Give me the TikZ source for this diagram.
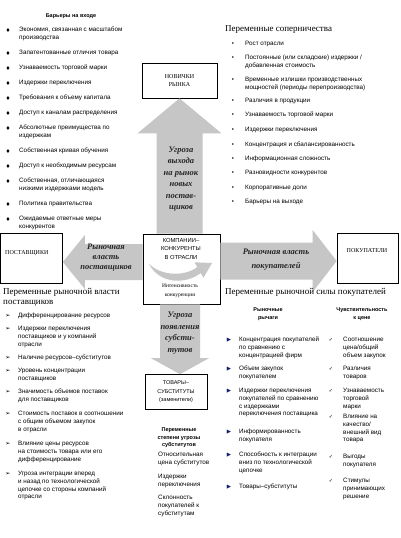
\documentclass[tikz,border=0pt]{standalone}
\usepackage{fontspec}
\setmainfont{Liberation Serif}
\setsansfont{Liberation Sans}
\newfontfamily\djv{DejaVu Sans}
\usetikzlibrary{calc,arrows.meta}
\definecolor{arrgray}{RGB}{198,198,198}
\definecolor{navyb}{RGB}{20,30,110}
\tikzset{
  lst/.style={font=\sffamily\fontsize{6.3}{7.8}\selectfont, align=left, anchor=north west, inner sep=0pt},
  dia/.style={node contents={\djv\fontsize{5.5}{5.5}\selectfont ♦}, inner sep=0pt},
  dot/.style={node contents={\sffamily\fontsize{6}{6}\selectfont •}, inner sep=0pt},
  harr/.style={node contents={\djv\fontsize{6}{6}\selectfont ➢}, inner sep=0pt},
  tri/.style={node contents={\djv\fontsize{5.5}{5.5}\selectfont ▶}, inner sep=0pt, text=navyb},
  chk/.style={node contents={\djv\fontsize{5}{5}\selectfont ✓}, inner sep=0pt},
  hdr/.style={font=\rmfamily\fontsize{9}{10}\selectfont, align=left, anchor=north west, inner sep=0pt},
  sub/.style={font=\sffamily\bfseries\fontsize{5.5}{7.5}\selectfont, align=center, inner sep=0pt},
  box/.style={draw=black, line width=0.7pt, fill=white, inner sep=0pt},
  arr/.style={fill=arrgray, draw=none},
  arrtxt/.style={font=\rmfamily\bfseries\itshape\fontsize{8.5}{10}\selectfont, align=center, inner sep=0pt, text=black!85},
  boxtxt/.style={font=\rmfamily\fontsize{6}{8.5}\selectfont, align=center, inner sep=0pt},
  boxsans/.style={font=\sffamily\fontsize{5.8}{8.5}\selectfont, align=center, inner sep=0pt}
}
\newcommand\LI[6]{%
  \node[name=#1b, at={(#3,#5)}, #2];
  \node[lst] (#1) at (#4,#5-3) {#6};}
\begin{document}
\begin{tikzpicture}[x=1pt,y=-1pt]
\useasboundingbox (0,0) rectangle (401,538);
\fill[white] (0,0) rectangle (401,538);

% boxes
\node[box, minimum width=75pt, minimum height=35pt] (nov) at (179.5,80.5) {};
\node[box, minimum width=62pt, minimum height=50pt] (sup) at (31.5,258) {};
\node[box, minimum width=61pt, minimum height=50pt] (cus) at (367.5,258) {};
\node[box, minimum width=77pt, minimum height=70pt] (comp) at (181.5,269) {};
\node[box, minimum width=62pt, minimum height=35pt] (sbs) at (176,392) {};

% block arrows
\fill[arr] (nov.south) -- ++(42,35) -- ++(-19,0) -- ($(nov.south|-comp.north)+(23,0)$)
  -- ++(-46,0) -- ($(nov.south)+(-23,35)$) -- ++(-19,0) -- cycle;
\coordinate (dt) at ($(sbs.north)+(4,0)$);
\fill[arr] (dt) -- ++(29,-16) -- ++(-9,0) -- ($(dt|-comp.south)+(20,0)$)
  -- ++(-40,0) -- ($(dt)+(-20,-16)$) -- ++(-9,0) -- cycle;
\coordinate (lt) at ($(sup.east)+(0,4)$);
\fill[arr] (lt) -- ++(22,-27) -- ++(0,9) -- ($(lt-|comp.west)+(0,-18)$) -- ++(0,36)
  -- ($(lt)+(22,18)$) -- ++(0,9) -- cycle;
\coordinate (rt) at ($(cus.west)+(0,3)$);
\fill[arr] (rt) -- ++(-24,-31) -- ++(0,12.5) -- ($(rt-|comp.east)+(0,-18.5)$) -- ++(0,37)
  -- ($(rt)+(-24,18.5)$) -- ++(0,12.5) -- cycle;

% arrow texts
\node[arrtxt, font=\rmfamily\bfseries\itshape\fontsize{8.5}{11.4}\selectfont] (tup) at (181,179)
  {Угроза\\выхода\\на рынок\\новых\\постав-\\щиков};
\node[arrtxt] (tlf) at (106,258) {Рыночная\\власть\\поставщиков};
\node[arrtxt, font=\rmfamily\bfseries\itshape\fontsize{8.5}{14}\selectfont] (trt) at (276,260) {Рыночная власть\\покупателей};
\node[arrtxt, font=\rmfamily\bfseries\itshape\fontsize{8.5}{11.5}\selectfont] (tdn) at (180,333) {Угроза\\появления\\субсти-\\тутов};

% box texts
\node[boxtxt] (novt) at (nov.center) {НОВИЧКИ\\РЫНКА};
\node[boxtxt, anchor=west] (supt) at (5,253) {ПОСТАВЩИКИ};
\node[boxtxt] (cust) at (367,251) {ПОКУПАТЕЛИ};
\node[boxsans] (compt) at (181,249) {КОМПАНИИ–\\КОНКУРЕНТЫ\\В ОТРАСЛИ};
\fill[arrgray] (149,264) .. controls (160,285) and (187,284) .. (200.7,273) -- (203.5,277.7)
  -- (212,263) -- (194.5,262.3) -- (197.3,267) .. controls (186,276) and (163,277) .. (149,264) -- cycle;
\node[boxtxt, font=\rmfamily\fontsize{5.5}{8.5}\selectfont] (compi) at (180,291) {Интенсивность\\конкуренции};
\node[boxsans, font=\sffamily\fontsize{5.5}{8.5}\selectfont] (sbst) at (sbs.center) {ТОВАРЫ–\\СУБСТИТУТЫ\\(заменители)};

% left top list
\node[sub] (lth) at (71,16) {Барьеры на входе};
\LI{a1}{dia}{8}{19}{30}{Экономия, связанная с масштабом\\производства}
\LI{a2}{dia}{8}{19}{53}{Запатентованные отличия товара}
\LI{a3}{dia}{8}{19}{68}{Узнаваемость торговой марки}
\LI{a4}{dia}{8}{19}{83}{Издержки переключения}
\LI{a5}{dia}{8}{19}{98}{Требования к объему капитала}
\LI{a6}{dia}{8}{19}{113}{Доступ к каналам распределения}
\LI{a7}{dia}{8}{19}{128}{Абсолютные преимущества по\\издержкам}
\LI{a8}{dia}{8}{19}{151}{Собственная кривая обучения}
\LI{a9}{dia}{8}{19}{166}{Доступ к необходимым ресурсам}
\LI{a10}{dia}{8}{19}{181}{Собственная, отличающаяся\\низкими издержками модель}
\LI{a11}{dia}{8}{19}{204}{Политика правительства}
\LI{a12}{dia}{8}{19}{219}{Ожидаемые ответные меры\\конкурентов}

% right top list
\node[hdr] (rth) at (225,25) {Переменные соперничества};
\LI{b1}{dot}{233}{245}{44}{Рост отрасли}
\LI{b2}{dot}{233}{245}{58}{Постоянные (или складские) издержки /\\добавленная стоимость}
\LI{b3}{dot}{233}{245}{80}{Временные излишки производственных\\мощностей (периоды перепроизводства)}
\LI{b4}{dot}{233}{245}{101}{Различия в продукции}
\LI{b5}{dot}{233}{245}{115}{Узнаваемость торговой марки}
\LI{b6}{dot}{233}{245}{130}{Издержки переключения}
\LI{b7}{dot}{233}{245}{145}{Концентрация и сбалансированность}
\LI{b8}{dot}{233}{245}{159}{Информационная сложность}
\LI{b9}{dot}{233}{245}{173}{Разновидности конкурентов}
\LI{b10}{dot}{233}{245}{188}{Корпоративные доли}
\LI{b11}{dot}{233}{245}{202}{Барьеры на выходе}

% left bottom list
\node[hdr] (lbh) at (3,288) {Переменные рыночной власти\\поставщиков};
\LI{c1}{harr}{8}{18}{316}{Дифференцирование ресурсов}
\LI{c2}{harr}{8}{18}{329}{Издержки переключения\\поставщиков и у компаний\\отрасли}
\LI{c3}{harr}{8}{18}{358}{Наличие ресурсов–субститутов}
\LI{c4}{harr}{8}{18}{371}{Уровень концентрации\\поставщиков}
\LI{c5}{harr}{8}{18}{392}{Значимость объемов поставок\\для поставщиков}
\LI{c6}{harr}{8}{18}{414}{Стоимость поставок в соотношении\\с общим объемом закупок\\в отрасли}
\LI{c7}{harr}{8}{18}{444}{Влияние цены ресурсов\\на стоимость товара или его\\дифференцирование}
\LI{c8}{harr}{8}{18}{474}{Угроза интеграции вперед\\и назад по технологической\\цепочке со стороны компаний\\отрасли}

% right bottom list
\node[hdr] (rbh) at (225,288) {Переменные рыночной силы покупателей};
\node[sub] (rbh1) at (268,314) {Рыночные\\рычаги};
\node[sub] (rbh2) at (362,314) {Чувствительность\\к цене};
\LI{d1}{tri}{229}{239}{340}{Концентрация покупателей\\по сравнению с\\концентрацией фирм}
\LI{d2}{tri}{229}{239}{369}{Объем закупок\\покупателем}
\LI{d3}{tri}{229}{239}{391}{Издержки переключения\\покупателей по сравнению\\с издержками\\переключения поставщика}
\LI{d4}{tri}{229}{239}{432}{Информированность\\покупателя}
\LI{d5}{tri}{229}{239}{455}{Способность к интеграции\\вниз по технологической\\цепочке}
\LI{d6}{tri}{229}{239}{487}{Товары–субституты}
\LI{e1}{chk}{331}{343}{340}{Соотношение\\цена/общий\\объем закупок}
\LI{e2}{chk}{331}{343}{369}{Различия\\товаров}
\LI{e3}{chk}{331}{343}{391}{Узнаваемость\\торговой\\марки}
\LI{e4}{chk}{331}{343}{417}{Влияние на\\качество/\\внешний вид\\товара}
\LI{e5}{chk}{331}{343}{457}{Выгоды\\покупателя}
\LI{e6}{chk}{331}{343}{481}{Стимулы\\принимающих\\решение}

% substitutes list
\node[sub] (sbh) at (179,438) {Переменные\\степени угрозы\\субститутов};
\node[lst] (s1) at (158,452) {Относительная\\цена субститутов};
\node[lst] (s2) at (158,474) {Издержки\\переключения};
\node[lst] (s3) at (158,495) {Склонность\\покупателей к\\субститутам};
\end{tikzpicture}
\end{document}
